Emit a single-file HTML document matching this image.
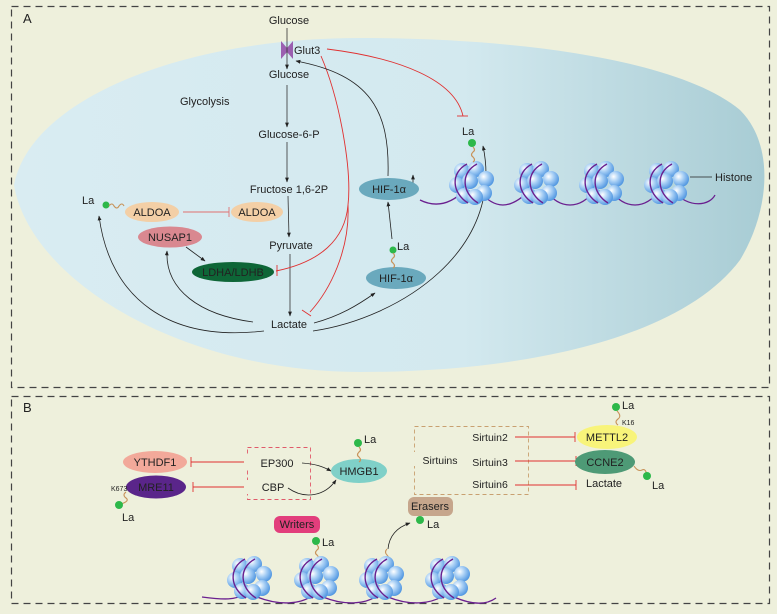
<!DOCTYPE html>
<html><head><meta charset="utf-8"><style>
html,body{margin:0;padding:0;background:#eef0dc}
svg{display:block}
text{font-family:"Liberation Sans",sans-serif;fill:#222}
</style></head><body>
<svg width="777" height="614" viewBox="0 0 777 614" xmlns="http://www.w3.org/2000/svg">
<defs>
<linearGradient id="cell" x1="0" y1="0" x2="1" y2="0">
<stop offset="0" stop-color="#d9ecf2"/><stop offset="0.6" stop-color="#d3e9ef"/><stop offset="1" stop-color="#a8ccd4"/>
</linearGradient>
<radialGradient id="ball" cx="0.35" cy="0.35" r="0.7">
<stop offset="0" stop-color="#ffffff"/><stop offset="0.45" stop-color="#a8cff5"/><stop offset="1" stop-color="#4d94e0"/>
</radialGradient>
<marker id="ah" viewBox="0 0 10 10" refX="9" refY="5" markerWidth="6" markerHeight="6" orient="auto"><path d="M0,1 L10,5 L0,9 z" fill="#222"/></marker>
<g id="nuc">
<circle cx="-10" cy="-12" r="8" fill="url(#ball)"/><circle cx="4" cy="-14" r="8" fill="url(#ball)"/><circle cx="14" cy="-4" r="8" fill="url(#ball)"/>
<circle cx="-15" cy="2" r="8" fill="url(#ball)"/><circle cx="-2" cy="-2" r="8" fill="url(#ball)"/><circle cx="12" cy="10" r="8" fill="url(#ball)"/>
<circle cx="-8" cy="13" r="8" fill="url(#ball)"/><circle cx="3" cy="14" r="8" fill="url(#ball)"/>
<path d="M-5,-19 C-22,-10 -20,10 -4,20" fill="none" stroke="#6a1f8f" stroke-width="1.4"/>
<path d="M5,-19 C-12,-10 -10,10 6,20" fill="none" stroke="#6a1f8f" stroke-width="1.4"/>
</g>
<g id="tail"><path d="M0,0 q3,3 0,5 q-3,3 0,5 q3,3 0,5" fill="none" stroke="#c8935a" stroke-width="1.2"/></g>
</defs>

<!-- Panel A -->
<rect x="11.5" y="6.5" width="758" height="381" fill="none" stroke="#444" stroke-width="1.2" stroke-dasharray="7,5"/>
<path d="M14,185 C30,100 180,38 360,38 C520,38 680,60 740,110 C775,145 770,210 740,260 C680,340 520,372 360,372 C180,372 30,280 14,185 Z" fill="url(#cell)"/>
<text x="23" y="23" font-family="Liberation Serif" font-size="13">A</text>

<text x="289" y="24" font-size="11" text-anchor="middle">Glucose</text>
<path d="M281,41 L287,48 L293,41 L293,59 L287,52 L281,59 Z" fill="#9b5fb0"/>
<line x1="287" y1="28" x2="287" y2="69" stroke="#333" stroke-width="0.8" marker-end="url(#ah)"/>
<text x="294" y="54" font-size="11">Glut3</text>
<text x="289" y="78" font-size="11" text-anchor="middle">Glucose</text>
<text x="180" y="105" font-size="11">Glycolysis</text>
<line x1="287" y1="85" x2="287" y2="127" stroke="#333" stroke-width="0.8" marker-end="url(#ah)"/>
<text x="289" y="138" font-size="11" text-anchor="middle">Glucose-6-P</text>
<line x1="287" y1="142" x2="287" y2="182" stroke="#333" stroke-width="0.8" marker-end="url(#ah)"/>
<text x="289" y="193" font-size="11" text-anchor="middle">Fructose 1,6-2P</text>
<line x1="288" y1="196" x2="289" y2="237" stroke="#333" stroke-width="0.8" marker-end="url(#ah)"/>
<text x="291" y="249" font-size="11" text-anchor="middle">Pyruvate</text>
<line x1="290" y1="254" x2="290" y2="316" stroke="#333" stroke-width="0.8" marker-end="url(#ah)"/>
<text x="289" y="328" font-size="11" text-anchor="middle">Lactate</text>

<text x="82" y="204" font-size="11">La</text>
<circle cx="106" cy="205" r="3.5" fill="#2db84a"/>
<path d="M109,206 q3,-4 5,0 q3,4 5,0 q3,-4 5,0" fill="none" stroke="#c8935a" stroke-width="1.1"/>
<ellipse cx="152" cy="212" rx="27" ry="10" fill="#f3cfa6"/>
<text x="152" y="216" font-size="11" text-anchor="middle">ALDOA</text>
<line x1="183" y1="212" x2="229" y2="212" stroke="#e07070" stroke-width="0.9"/>
<line x1="229" y1="207" x2="229" y2="217" stroke="#e07070" stroke-width="0.9"/>
<ellipse cx="257" cy="212" rx="26" ry="10" fill="#f3cfa6"/>
<text x="257" y="216" font-size="11" text-anchor="middle">ALDOA</text>
<ellipse cx="170" cy="237" rx="32" ry="10.5" fill="#d98890"/>
<text x="170" y="241" font-size="11" text-anchor="middle">NUSAP1</text>
<line x1="186" y1="247" x2="205" y2="261" stroke="#222" stroke-width="0.8" marker-end="url(#ah)"/>
<ellipse cx="233" cy="272" rx="41" ry="10" fill="#0e6637"/>
<text x="233" y="276" font-size="11" text-anchor="middle">LDHA/LDHB</text>

<path d="M327,49 C400,58 455,80 463,116" fill="none" stroke="#e03030" stroke-width="0.9"/>
<line x1="457" y1="116" x2="468" y2="116" stroke="#e03030" stroke-width="0.9"/>
<path d="M321,56 C340,100 352,170 348,205 C345,240 320,262 276,271" fill="none" stroke="#e03030" stroke-width="0.9"/>
<line x1="277" y1="265" x2="277" y2="276" stroke="#e03030" stroke-width="0.9"/>
<path d="M348,205 C350,250 330,290 310,312" fill="none" stroke="#e03030" stroke-width="0.9"/>
<line x1="302" y1="310" x2="311" y2="316" stroke="#e03030" stroke-width="0.9"/>

<path d="M388,176 C390,110 370,75 296,61" fill="none" stroke="#222" stroke-width="0.8" marker-end="url(#ah)"/>
<path d="M264,331 C170,342 110,300 99,216" fill="none" stroke="#222" stroke-width="0.8" marker-end="url(#ah)"/>
<path d="M253,322 C200,315 165,290 167,251" fill="none" stroke="#222" stroke-width="0.8" marker-end="url(#ah)"/>
<path d="M314,323 C340,316 358,305 375,293" fill="none" stroke="#222" stroke-width="0.8" marker-end="url(#ah)"/>
<path d="M313,331 C400,318 505,250 483,146" fill="none" stroke="#222" stroke-width="0.8" marker-end="url(#ah)"/>
<line x1="392" y1="239" x2="388" y2="202" stroke="#222" stroke-width="0.8" marker-end="url(#ah)"/>
<line x1="413" y1="190" x2="413" y2="175" stroke="#222" stroke-width="0.8" marker-end="url(#ah)"/>

<ellipse cx="389" cy="189" rx="30" ry="11" fill="#6aa9bd"/>
<text x="389" y="193" font-size="11" text-anchor="middle">HIF-1α</text>
<ellipse cx="396" cy="278" rx="30" ry="11" fill="#6aa9bd"/>
<text x="396" y="282" font-size="11" text-anchor="middle">HIF-1α</text>
<circle cx="393" cy="250" r="3.5" fill="#2db84a"/>
<use href="#tail" x="393" y="253"/>
<text x="397" y="250" font-size="11">La</text>

<path d="M420,200 C440,210 455,200 465,190 M478,190 C495,210 510,210 530,190 M545,190 C560,210 580,210 595,190 M610,190 C625,210 645,210 660,190 M672,190 C690,210 710,205 715,195" fill="none" stroke="#6a1f8f" stroke-width="1.3"/>
<use href="#nuc" x="472" y="183"/>
<use href="#nuc" x="537" y="183"/>
<use href="#nuc" x="602" y="183"/>
<use href="#nuc" x="667" y="183"/>
<circle cx="472" cy="143" r="4" fill="#2db84a"/>
<use href="#tail" x="473" y="147"/>
<text x="462" y="135" font-size="11">La</text>
<line x1="690" y1="177" x2="712" y2="177" stroke="#222" stroke-width="0.8"/>
<text x="715" y="181" font-size="11">Histone</text>

<!-- Panel B -->
<rect x="11.5" y="396.5" width="758" height="207" fill="none" stroke="#444" stroke-width="1.2" stroke-dasharray="7,5"/>
<text x="23" y="412" font-family="Liberation Serif" font-size="13">B</text>

<ellipse cx="155" cy="462" rx="32" ry="11" fill="#f2a99a"/>
<text x="155" y="466" font-size="11" text-anchor="middle">YTHDF1</text>
<ellipse cx="156" cy="487" rx="30" ry="11.5" fill="#5a258a"/>
<text x="156" y="491" font-size="11" text-anchor="middle">MRE11</text>
<text x="111" y="491" font-size="7">K673</text>
<path d="M126,492 q-4,3 0,6 q4,3 -5,6" fill="none" stroke="#c8935a" stroke-width="1.1"/>
<circle cx="119" cy="505" r="4" fill="#2db84a"/>
<text x="122" y="521" font-size="11">La</text>
<line x1="191" y1="462" x2="248" y2="462" stroke="#e03030" stroke-width="0.9"/>
<line x1="191" y1="457" x2="191" y2="467" stroke="#e03030" stroke-width="0.9"/>
<line x1="193" y1="487" x2="248" y2="487" stroke="#e03030" stroke-width="0.9"/>
<line x1="193" y1="482" x2="193" y2="492" stroke="#e03030" stroke-width="0.9"/>
<rect x="247.5" y="447.5" width="63" height="52" fill="none" stroke="#e05a6a" stroke-width="0.9" stroke-dasharray="4,3"/>
<rect x="244" y="455" width="57" height="14" fill="#eef0dc"/>
<rect x="244" y="480" width="45" height="14" fill="#eef0dc"/>
<text x="277" y="467" font-size="11" text-anchor="middle">EP300</text>
<text x="273" y="491" font-size="11" text-anchor="middle">CBP</text>
<path d="M302,463 C315,464 322,466 331,471" fill="none" stroke="#222" stroke-width="0.8" marker-end="url(#ah)"/>
<path d="M288,488 C305,500 325,496 336,480" fill="none" stroke="#222" stroke-width="0.8" marker-end="url(#ah)"/>
<ellipse cx="359" cy="471" rx="28" ry="12" fill="#7fd0c8"/>
<text x="359" y="475" font-size="11" text-anchor="middle">HMGB1</text>
<circle cx="358" cy="443" r="4" fill="#2db84a"/>
<use href="#tail" x="359" y="447"/>
<text x="364" y="443" font-size="11">La</text>

<rect x="414.5" y="426.5" width="114" height="68" fill="none" stroke="#c8a070" stroke-width="0.9" stroke-dasharray="4,3"/>
<rect x="468" y="430" width="58" height="60" fill="#eef0dc"/>
<rect x="412" y="452" width="56" height="14" fill="#eef0dc"/>
<text x="440" y="464" font-size="10.5" text-anchor="middle">Sirtuins</text>
<text x="490" y="441" font-size="10.5" text-anchor="middle">Sirtuin2</text>
<text x="490" y="466" font-size="10.5" text-anchor="middle">Sirtuin3</text>
<text x="490" y="488" font-size="10.5" text-anchor="middle">Sirtuin6</text>
<line x1="515" y1="437" x2="575" y2="437" stroke="#e03030" stroke-width="0.9"/>
<line x1="575" y1="432" x2="575" y2="442" stroke="#e03030" stroke-width="0.9"/>
<line x1="515" y1="461" x2="576" y2="461" stroke="#e03030" stroke-width="0.9"/>
<line x1="576" y1="456" x2="576" y2="466" stroke="#e03030" stroke-width="0.9"/>
<line x1="515" y1="485" x2="576" y2="485" stroke="#e03030" stroke-width="0.9"/>
<line x1="576" y1="480" x2="576" y2="490" stroke="#e03030" stroke-width="0.9"/>
<ellipse cx="607" cy="437" rx="30" ry="12" fill="#f8f47a"/>
<text x="607" y="441" font-size="11" text-anchor="middle">METTL2</text>
<path d="M618,425 q-4,-3 0,-6 q4,-3 -1,-8" fill="none" stroke="#c8935a" stroke-width="1.1"/>
<text x="622" y="425" font-size="7">K16</text>
<circle cx="616" cy="407" r="4" fill="#2db84a"/>
<text x="622" y="409" font-size="11">La</text>
<ellipse cx="605" cy="462" rx="30" ry="12" fill="#4e9a76"/>
<text x="605" y="466" font-size="11" text-anchor="middle">CCNE2</text>
<path d="M634,466 q4,6 8,4 q4,-2 5,6" fill="none" stroke="#c8935a" stroke-width="1.1"/>
<circle cx="647" cy="476" r="4" fill="#2db84a"/>
<text x="652" y="489" font-size="11">La</text>
<text x="604" y="487" font-size="11" text-anchor="middle">Lactate</text>

<rect x="408" y="497" width="45" height="19" rx="6" fill="#c6a68c"/>
<text x="430" y="510" font-size="11" text-anchor="middle">Erasers</text>
<circle cx="420" cy="520" r="4" fill="#2db84a"/>
<text x="427" y="528" font-size="11">La</text>
<rect x="274" y="516" width="46" height="17" rx="6" fill="#e23e7c"/>
<text x="297" y="528" font-size="11" text-anchor="middle">Writers</text>
<circle cx="316" cy="541" r="4" fill="#2db84a"/>
<use href="#tail" x="317" y="545"/>
<text x="322" y="546" font-size="11">La</text>
<path d="M387,561 q3,-3 0,-6 q-3,-3 0,-6" fill="none" stroke="#c8935a" stroke-width="1.1"/>
<path d="M388,549 C389,538 395,528 410,523" fill="none" stroke="#222" stroke-width="0.8" marker-end="url(#ah)"/>

<path d="M202,597 C225,600 235,600 245,594 M257,597 C280,606 300,604 312,596 M323,597 C345,606 365,604 377,596 M388,597 C410,606 430,604 443,596 M454,597 C470,604 485,606 496,598" fill="none" stroke="#6a1f8f" stroke-width="1.3"/>
<use href="#nuc" x="250" y="578"/>
<use href="#nuc" x="317" y="578"/>
<use href="#nuc" x="382" y="578"/>
<use href="#nuc" x="448" y="578"/>
</svg>
</body></html>
